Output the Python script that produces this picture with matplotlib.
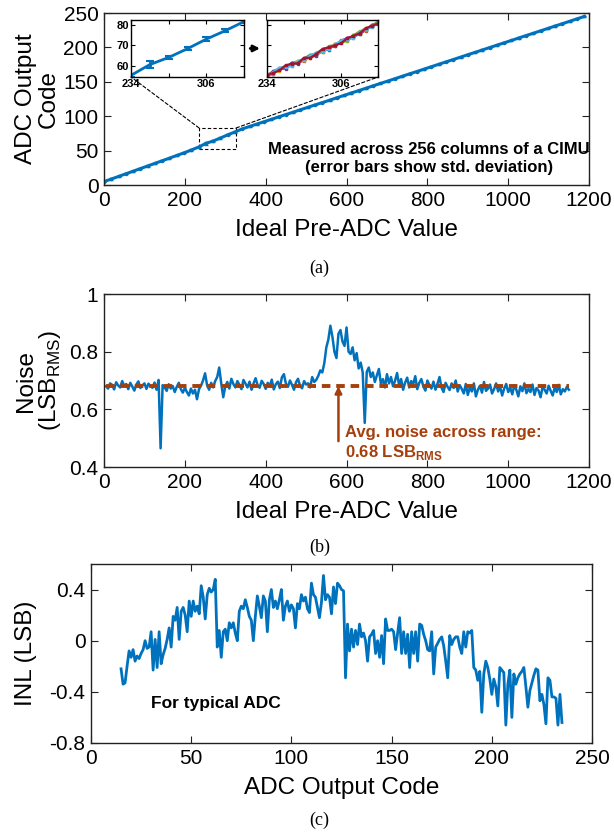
import numpy as np
import matplotlib.pyplot as plt
from matplotlib.patches import Rectangle, ConnectionPatch, FancyArrowPatch

plt.rcParams['font.family'] = ['Liberation Sans', 'DejaVu Sans']
plt.rcParams['mathtext.fontset'] = 'custom'
plt.rcParams['mathtext.rm'] = 'Liberation Sans'
plt.rcParams['mathtext.bf'] = 'Liberation Sans:bold'

BLUE = '#0072BD'
BROWN = '#A5400C'
matlab_colors = ['#0072BD', '#D95319', '#EDB120', '#7E2F8E', '#77AC30', '#4DBEEE', '#A2142F']

# ---- (a) transfer function, mean and std over 256 columns
ideal_x = [0, 18, 36, 54, 72, 90, 108, 126, 144, 162, 180, 198, 216, 234, 252, 270, 288, 306, 324, 342,
           360, 378, 396, 414, 432, 450, 468, 486, 504, 522, 540, 558, 576, 594, 612, 630, 648, 666, 684, 702,
           720, 738, 756, 774, 792, 810, 828, 846, 864, 882, 900, 918, 936, 954, 972, 990, 1008, 1026, 1044,
           1062, 1080, 1098, 1116, 1134, 1152, 1170, 1188]
adc_mean = [5.0, 8.7, 12.5, 16.3, 20.1, 23.9, 27.7, 31.5, 35.3, 39.1, 43.0, 46.8, 50.9, 55.2, 60.5, 64.0,
            68.3, 73.0, 77.1, 81.6, 85.1, 88.6, 92.0, 95.5, 99.0, 102.5, 105.9, 109.4, 112.9, 116.4, 119.8,
            123.3, 126.8, 130.3, 133.8, 137.2, 140.7, 144.2, 147.7, 151.1, 154.6, 158.1, 161.6, 165.0, 168.5,
            172.0, 175.5, 178.9, 182.4, 185.9, 189.4, 192.8, 196.3, 199.8, 203.3, 206.7, 210.2, 213.7, 217.2,
            220.6, 224.1, 227.6, 231.1, 234.5, 238.0, 241.5, 245.0]
adc_std = [0.8] * 14 + [1.6] + [0.8] * 52

# zoomed insets (234..342)
zoom_x = [234, 252, 270, 288, 306, 324, 342]
zoom_mean = [55.2, 60.5, 64.0, 68.3, 73.0, 77.1, 81.6]
zoom_std = [0.8, 1.6, 0.8, 0.8, 0.8, 0.8, 0.9]

col_x = [234, 240, 246, 252, 258, 264, 270, 276, 282, 288, 294, 300, 306, 312, 318, 324, 330, 336, 342]
col_base = [55.0, 56.6, 58.0, 59.2, 60.5, 61.5, 63.0, 64.4, 65.6, 67.3, 68.6, 70.0, 71.6, 72.8, 74.3,
            76.0, 77.6, 79.4, 81.0]
col_offsets = [
    [0.3, -0.5, 0.8, -0.2, 0.6, -0.7, 0.4, 0.9, -0.3, 0.2, -0.8, 0.5, 0.1, -0.4, 0.7, -0.6, 0.3, -0.2, 0.4],
    [-0.6, 0.4, -0.2, 0.7, -0.5, 0.3, -0.8, 0.1, 0.6, -0.4, 0.2, -0.3, 0.8, 0.4, -0.6, 0.2, -0.5, 0.6, -0.1],
    [0.8, 0.1, -0.6, 0.3, 0.2, 0.9, -0.1, -0.5, 0.4, 0.7, -0.2, 0.8, -0.5, 0.3, 0.1, 0.6, 0.9, -0.4, 0.2],
    [-0.2, 0.7, 0.5, -0.7, 0.9, -0.1, 0.6, -0.3, -0.7, 0.5, 0.4, -0.6, 0.3, 0.9, -0.2, -0.4, 0.1, 0.5, -0.5],
    [0.5, -0.8, 0.2, 0.5, -0.3, 0.4, 0.2, 0.6, 0.2, -0.6, 0.9, 0.1, -0.2, -0.7, 0.5, 0.8, -0.3, 0.2, 0.7],
    [-0.4, 0.2, 0.9, 0.1, -0.8, 0.6, -0.4, 0.3, 0.8, 0.1, -0.5, 0.4, 0.6, 0.2, -0.8, 0.3, 0.5, -0.7, 0.0],
    [0.1, -0.2, -0.4, 0.9, 0.4, -0.4, 0.8, -0.6, 0.1, 0.9, 0.3, -0.1, -0.6, 0.6, 0.3, -0.2, 0.7, 0.1, -0.3],
]

# ---- (b) noise vs ideal pre-ADC value
noise_x = np.arange(5, 1151, 5)
noise = [
    0.680, 0.672, 0.690, 0.685, 0.669, 0.694, 0.683, 0.676, 0.698, 0.681,
    0.688, 0.670, 0.692, 0.679, 0.665, 0.686, 0.697, 0.674, 0.683, 0.690,
    0.671, 0.689, 0.680, 0.675, 0.693, 0.668, 0.702, 0.465, 0.684, 0.676,
    0.664, 0.687, 0.672, 0.681, 0.660, 0.678, 0.692, 0.670, 0.658, 0.675,
    0.660, 0.648, 0.672, 0.655, 0.668, 0.635, 0.670, 0.682, 0.700, 0.725,
    0.684, 0.668, 0.692, 0.676, 0.698, 0.712, 0.745, 0.690, 0.642, 0.680,
    0.695, 0.672, 0.706, 0.688, 0.676, 0.698, 0.685, 0.670, 0.702, 0.689,
    0.676, 0.696, 0.668, 0.690, 0.708, 0.684, 0.675, 0.699, 0.688, 0.671,
    0.692, 0.680, 0.703, 0.669, 0.687, 0.696, 0.674, 0.711, 0.722, 0.689,
    0.678, 0.700, 0.685, 0.668, 0.694, 0.706, 0.681, 0.673, 0.698, 0.686,
    0.690, 0.676, 0.712, 0.695, 0.702, 0.716, 0.735, 0.728, 0.760, 0.815,
    0.842, 0.890, 0.852, 0.800, 0.778, 0.862, 0.875, 0.835, 0.820, 0.884,
    0.800, 0.792, 0.815, 0.770, 0.795, 0.742, 0.762, 0.728, 0.553, 0.730,
    0.745, 0.712, 0.728, 0.695, 0.718, 0.740, 0.688, 0.705, 0.676, 0.722,
    0.690, 0.712, 0.680, 0.699, 0.726, 0.684, 0.705, 0.668, 0.693, 0.710,
    0.676, 0.698, 0.687, 0.715, 0.670, 0.692, 0.705, 0.680, 0.665, 0.700,
    0.684, 0.672, 0.696, 0.668, 0.689, 0.712, 0.675, 0.660, 0.692, 0.678,
    0.667, 0.690, 0.674, 0.700, 0.662, 0.684, 0.671, 0.655, 0.688, 0.650,
    0.676, 0.662, 0.690, 0.645, 0.668, 0.682, 0.658, 0.695, 0.664, 0.672,
    0.686, 0.655, 0.670, 0.690, 0.662, 0.678, 0.648, 0.672, 0.688, 0.660,
    0.675, 0.652, 0.684, 0.668, 0.645, 0.680, 0.663, 0.690, 0.656, 0.671,
    0.660, 0.686, 0.650, 0.674, 0.665, 0.642, 0.678, 0.668, 0.655, 0.682,
    0.664, 0.648, 0.676, 0.660, 0.685, 0.652, 0.670, 0.662, 0.678, 0.668,
]
avg_noise = 0.68

# ---- (c) INL of a typical ADC
codes = np.arange(15, 236)
inl = [
    -0.22, -0.34, -0.33, -0.20, -0.08, -0.13, -0.07, -0.16, -0.12, -0.14,
    -0.10, -0.07, 0.00, -0.06, -0.05, 0.07, -0.23, 0.01, -0.21, 0.07,
    -0.18, -0.11, -0.06, 0.01, 0.10, -0.05, 0.19, 0.16, 0.26, 0.01,
    0.23, 0.26, 0.20, 0.07, 0.31, 0.19, 0.31, 0.23, 0.27, 0.21,
    0.43, 0.34, 0.17, 0.36, 0.41, 0.38, 0.40, 0.48, -0.05, 0.08,
    -0.13, 0.07, 0.09, 0.00, 0.14, 0.10, 0.14, 0.06, 0.00, 0.23,
    0.27, 0.25, 0.32, 0.26, 0.19, 0.16, 0.00, 0.19, 0.35, 0.27,
    0.18, 0.35, 0.31, 0.07, 0.32, 0.40, 0.26, 0.31, 0.25, 0.32,
    0.40, 0.16, 0.27, 0.31, 0.23, 0.28, 0.25, 0.10, 0.29, 0.25,
    0.36, 0.31, 0.34, 0.25, 0.22, 0.45, 0.36, 0.34, 0.26, 0.18,
    0.30, 0.51, 0.32, 0.36, 0.34, 0.21, 0.42, 0.29, 0.45, 0.43,
    0.40, 0.39, -0.29, 0.13, -0.08, 0.09, -0.05, 0.08, -0.03, 0.13,
    0.03, 0.06, 0.00, -0.16, 0.03, 0.05, 0.08, -0.10, 0.00, -0.13,
    0.04, -0.18, 0.17, 0.08, 0.08, 0.09, 0.07, -0.07, 0.06, 0.18,
    -0.10, 0.07, -0.10, 0.05, -0.21, 0.07, -0.10, 0.07, -0.16, 0.13,
    0.12, 0.05, 0.00, -0.07, -0.08, 0.07, -0.26, -0.05, -0.02, 0.01,
    0.03, -0.04, -0.16, -0.29, 0.04, -0.03, 0.01, 0.03, 0.03, -0.05,
    -0.10, 0.07, -0.05, 0.07, 0.06, 0.08, -0.21, -0.23, -0.31, -0.24,
    -0.56, -0.26, -0.16, -0.21, -0.30, -0.42, -0.30, -0.36, -0.51, -0.21,
    -0.23, -0.25, -0.66, -0.34, -0.23, -0.60, -0.26, -0.34, -0.29, -0.26,
    -0.24, -0.21, -0.36, -0.52, -0.39, -0.33, -0.27, -0.22, -0.23, -0.47,
    -0.42, -0.50, -0.65, -0.29, -0.31, -0.44, -0.44, -0.45, -0.66, -0.42,
    -0.64,
]


def style(ax, fs=15):
    ax.tick_params(direction='in', top=True, right=True, length=5, width=0.8,
                   labelsize=fs, pad=4, colors='#222222', labelcolor='black')
    for s in ax.spines.values():
        s.set_linewidth(1.0)
        s.set_color('#222222')


fig = plt.figure(figsize=(6.14, 8.35), dpi=100)

# ================= (a)
axa = fig.add_axes([0.1694, 0.7784, 0.790, 0.206])
axa.errorbar(ideal_x, adc_mean, yerr=adc_std, color=BLUE, lw=2.2, marker='.', ms=3,
             capsize=1.2, elinewidth=1.0)
axa.set_xlim(0, 1200)
axa.set_ylim(0, 250)
axa.set_xticks(range(0, 1201, 200))
axa.set_yticks(range(0, 251, 50))
style(axa)
axa.set_xlabel('Ideal Pre-ADC Value', fontsize=17.5, labelpad=7)
axa.set_ylabel('ADC Output\nCode', fontsize=17.5, linespacing=1.0)
axa.yaxis.set_label_coords(-0.092, 0.5)
axa.text(0.67, 0.155, 'Measured across 256 columns of a CIMU\n(error bars show std. deviation)',
         transform=axa.transAxes, ha='center', va='center', fontsize=12, fontweight='bold',
         linespacing=1.25)

axa.add_patch(Rectangle((235, 52), 92, 31, fill=False, ls=(0, (3, 2)), lw=0.8, color='black'))

ins1 = fig.add_axes([0.2134, 0.9078, 0.184, 0.0683])
ins1.errorbar(zoom_x, zoom_mean, yerr=zoom_std, color=BLUE, lw=2.0, capsize=3, elinewidth=2,
              capthick=1.5)
ins1.set_xlim(234, 342)
ins1.set_ylim(54.4, 82.4)
ins1.set_xticks([234, 270, 306, 342])
ins1.set_xticklabels(['234', '', '306', ''])
ins1.set_yticks([60, 70, 80])
ins2 = fig.add_axes([0.4349, 0.9078, 0.181, 0.0683])
for off, c in zip(col_offsets, matlab_colors):
    ins2.plot(col_x, np.array(col_base) + np.array(off), color=c, lw=1.6, marker='s', ms=1.5)
ins2.set_xlim(234, 342)
ins2.set_ylim(54.4, 82.4)
ins2.set_xticks([234, 270, 306, 342])
ins2.set_xticklabels(['234', '', '306', ''])
ins2.set_yticks([60, 70, 80])
ins2.set_yticklabels([])
for ins in (ins1, ins2):
    ins.tick_params(direction='in', top=True, right=True, length=3, width=0.8, labelsize=8, pad=1.5)
    for lab in ins.get_xticklabels() + ins.get_yticklabels():
        lab.set_fontweight('bold')
    for s in ins.spines.values():
        s.set_linewidth(1.0)

for xy_a, ins, xy_b in [((235, 83), ins1, (0, 0)), ((327, 83), ins2, (1, 0))]:
    cp = ConnectionPatch(xyA=xy_a, coordsA=axa.transData, xyB=xy_b, coordsB=ins.transAxes,
                         ls=(0, (3, 2)), lw=0.8, color='black')
    fig.add_artist(cp)

fig.add_artist(FancyArrowPatch((0.403, 0.942), (0.428, 0.942), transform=fig.transFigure,
                               arrowstyle='-|>', mutation_scale=9, lw=2, color='black'))

fig.text(0.52, 0.679, '(a)', fontsize=13, family='Liberation Serif', ha='center', va='center')

# ================= (b)
axb = fig.add_axes([0.1694, 0.4407, 0.790, 0.2072])
axb.plot(noise_x, noise, color=BLUE, lw=1.8)
axb.plot([5, 1150], [avg_noise, avg_noise], color=BROWN, lw=2.8, ls=(0, (2.2, 1.5)))
axb.set_xlim(0, 1200)
axb.set_ylim(0.4, 1.0)
axb.set_xticks(range(0, 1201, 200))
axb.set_yticks([0.4, 0.6, 0.8, 1.0])
axb.set_yticklabels(['0.4', '0.6', '0.8', '1'])
style(axb)
axb.set_xlabel('Ideal Pre-ADC Value', fontsize=17.5, labelpad=7)
axb.set_ylabel('Noise\n(LSB$_{\\mathrm{RMS}}$)', fontsize=17.5, linespacing=1.0)
axb.yaxis.set_label_coords(-0.085, 0.5)
axb.annotate('', xy=(580, 0.69), xytext=(580, 0.48),
             arrowprops=dict(arrowstyle='-|>', color=BROWN, lw=1.8, mutation_scale=10))
axb.text(597, 0.521, 'Avg. noise across range:', color=BROWN, fontsize=12, fontweight='bold',
         ha='left', va='center')
axb.text(597, 0.452, '0.68 LSB$_{\\mathbf{RMS}}$', color=BROWN, fontsize=12, fontweight='bold',
         ha='left', va='center')

fig.text(0.52, 0.344, '(b)', fontsize=13, family='Liberation Serif', ha='center', va='center')

# ================= (c)
axc = fig.add_axes([0.1482, 0.1102, 0.816, 0.2144])
axc.plot(codes, inl, color=BLUE, lw=2.0)
axc.set_xlim(0, 250)
axc.set_ylim(-0.8, 0.6)
axc.set_xticks(range(0, 251, 50))
axc.set_yticks([-0.8, -0.4, 0, 0.4])
axc.set_yticklabels(['-0.8', '-0.4', '0', '0.4'])
style(axc)
axc.set_xlabel('ADC Output Code', fontsize=17.5, labelpad=7)
axc.set_ylabel('INL (LSB)', fontsize=17.5)
axc.yaxis.set_label_coords(-0.108, 0.5)
axc.text(30, -0.49, 'For typical ADC', fontsize=12.5, fontweight='bold', ha='left', va='center')

fig.text(0.52, 0.018, '(c)', fontsize=13, family='Liberation Serif', ha='center', va='center')

fig.savefig('out.png', dpi=100)
